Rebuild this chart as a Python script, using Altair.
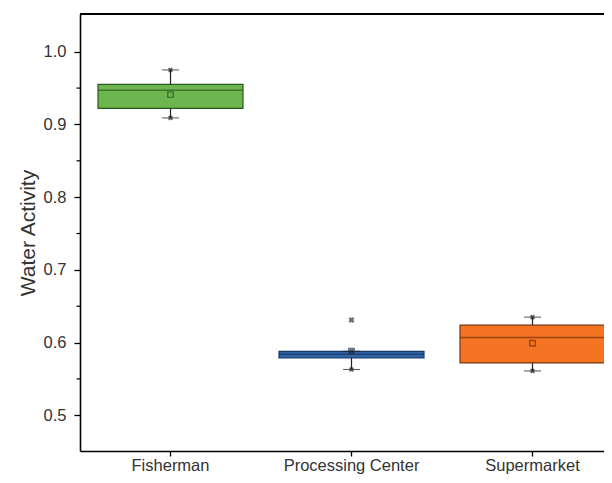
import altair as alt
import pandas as pd

categories = ["Fisherman", "Processing Center", "Supermarket"]
whisker_low = [0.909, 0.563, 0.561]
q1 = [0.922, 0.579, 0.572]
median = [0.947, 0.584, 0.607]
q3 = [0.955, 0.588, 0.624]
whisker_high = [0.975, 0.588, 0.635]
mean = [0.941, 0.588, 0.599]
outlier_cat = ["Processing Center"]
outlier_val = [0.631]
y_ticks = [0.5, 0.6, 0.7, 0.8, 0.9, 1.0]
y_minor = [0.55, 0.65, 0.75, 0.85, 0.95]

fill_colors = ["#6db54f", "#2f62a6", "#f47424"]
edge_colors = ["#2c5a1c", "#163866", "#7a3308"]

df = pd.DataFrame({
    "category": categories,
    "wlo": whisker_low, "q1": q1, "median": median, "q3": q3,
    "whi": whisker_high, "mean": mean,
})
ends = pd.DataFrame({
    "category": categories * 2,
    "v": whisker_low + whisker_high,
})
out_df = pd.DataFrame({"category": outlier_cat, "v": outlier_val})
minor_df = pd.DataFrame({"v": y_minor})

FONT = "Liberation Sans"
ydom = [0.4509, 1.0519]

x_enc = alt.X(
    "category:N",
    scale=alt.Scale(domain=categories, paddingInner=0, paddingOuter=0),
    axis=alt.Axis(title=None, labelAngle=0, labelFont=FONT, labelFontSize=16.5,
                  labelColor="#333333", labelPadding=1, tickSize=5,
                  tickColor="black", domainColor="black", domainWidth=1.6,
                  tickWidth=1.3, grid=False),
)
y_scale = alt.Scale(domain=ydom, nice=False, zero=False)

def Y(field):
    return alt.Y(field, type="quantitative", scale=y_scale)

fill_scale = alt.Scale(domain=categories, range=fill_colors)
edge_scale = alt.Scale(domain=categories, range=edge_colors)

boxes = alt.Chart(df).mark_bar(size=145, strokeWidth=1.2).encode(
    x=x_enc,
    y=alt.Y("q1:Q", scale=y_scale,
            axis=alt.Axis(values=y_ticks, format=".1f", title="Water Activity",
                          labelFont=FONT, labelFontSize=16.5, labelColor="#333333",
                          labelPadding=8, tickSize=6, tickWidth=1.3,
                          tickColor="black", domainColor="black", domainWidth=1.6,
                          titleFont=FONT, titleFontSize=21, titleFontWeight="normal",
                          titleColor="#333333", titlePadding=5, grid=False)),
    y2="q3:Q",
    fill=alt.Fill("category:N", scale=fill_scale, legend=None),
    stroke=alt.Stroke("category:N", scale=edge_scale, legend=None),
)

med = alt.Chart(df).mark_tick(size=145, thickness=1.6).encode(
    x=alt.X("category:N"),
    y=Y("median"),
    color=alt.Color("category:N", scale=edge_scale, legend=None),
)

wh_low = alt.Chart(df).mark_rule(color="#222222", strokeWidth=1.2).encode(
    x=alt.X("category:N"), y=Y("wlo"), y2="q1:Q")
wh_high = alt.Chart(df).mark_rule(color="#222222", strokeWidth=1.2).encode(
    x=alt.X("category:N"), y=Y("q3"), y2="whi:Q")

caps = alt.Chart(ends).mark_tick(size=17, thickness=1.1, color="#222222").encode(
    x=alt.X("category:N"), y=Y("v"))
cap_marks = alt.Chart(ends).mark_point(shape="cross", angle=45, size=26, filled=True,
                                       color="#222222").encode(
    x=alt.X("category:N"), y=Y("v"))

means = alt.Chart(df).mark_point(shape="square", size=30, filled=False,
                                 strokeWidth=1.4).encode(
    x=alt.X("category:N"), y=Y("mean"),
    color=alt.Color("category:N", scale=edge_scale, legend=None),
)

outl = alt.Chart(out_df).mark_point(shape="cross", angle=45, size=36, filled=True,
                                    color="#333333").encode(
    x=alt.X("category:N"), y=Y("v"))

minor = alt.Chart(minor_df).mark_rule(color="black", strokeWidth=1.2).encode(
    x=alt.value(-3.5), x2=alt.value(0), y=Y("v"))

top = alt.Chart(minor_df).mark_rule(color="black", strokeWidth=1.6).encode(
    x=alt.value(0), x2=alt.value(600), y=alt.value(0))

chart = alt.layer(boxes, med, wh_low, wh_high, caps, cap_marks, means, outl, minor, top).properties(
    width=543, height=437,
    autosize=alt.AutoSizeParams(type="none"),
    padding={"left": 72, "top": 6, "right": -19, "bottom": 24},
).configure_view(stroke=None)

chart.save("out.html", embed_options={"renderer": "svg", "actions": False})
